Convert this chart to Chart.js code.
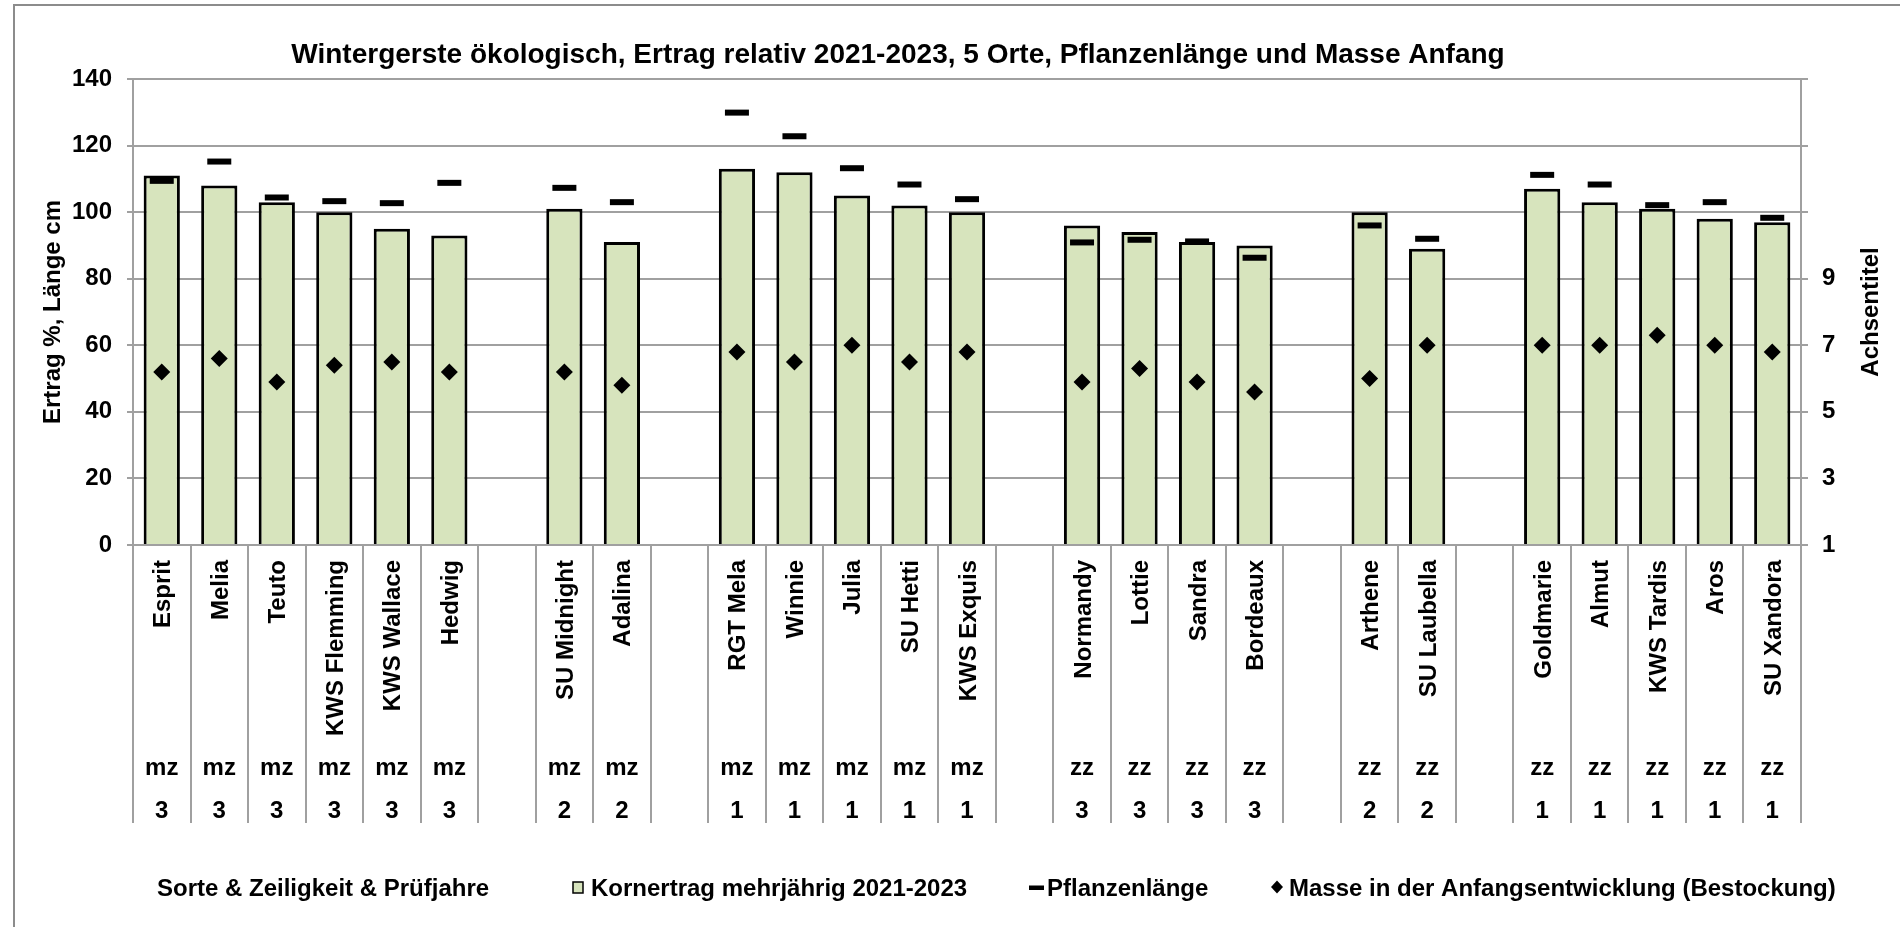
<!DOCTYPE html>
<html>
<head>
<meta charset="utf-8">
<script src="https://cdn.jsdelivr.net/npm/chart.js@4.4.1/dist/chart.umd.min.js"></script>
<style>
html,body{margin:0;padding:0;background:#fff;}
canvas{display:block;}
</style>
</head>
<body>
<canvas id="c" width="1900" height="927"></canvas>
<script>
// ---------- data ----------
const categories = ['Esprit','Melia','Teuto','KWS Flemming','KWS Wallace','Hedwig','',
  'SU Midnight','Adalina','',
  'RGT Mela','Winnie','Julia','SU Hetti','KWS Exquis','',
  'Normandy','Lottie','Sandra','Bordeaux','',
  'Arthene','SU Laubella','',
  'Goldmarie','Almut','KWS Tardis','Aros','SU Xandora'];
const zeiligkeit = ['mz','mz','mz','mz','mz','mz','',
  'mz','mz','',
  'mz','mz','mz','mz','mz','',
  'zz','zz','zz','zz','',
  'zz','zz','',
  'zz','zz','zz','zz','zz'];
const pruefjahre = ['3','3','3','3','3','3','',
  '2','2','',
  '1','1','1','1','1','',
  '3','3','3','3','',
  '2','2','',
  '1','1','1','1','1'];
const kornertrag = [111,108,103,100,95,93,null,
  101,91,null,
  113,112,105,102,100,null,
  96,94,91,90,null,
  100,89,null,
  107,103,101,98,97];
const pflanzenlaenge = [109.4,115.2,104.4,103.3,102.7,108.8,null,
  107.3,103.0,null,
  129.9,122.8,113.2,108.3,103.9,null,
  90.9,91.7,91.2,86.3,null,
  96.0,92.0,null,
  111.2,108.3,102.1,103.0,98.3];
const masseAnfang = [6.2,6.6,5.9,6.4,6.5,6.2,null,
  6.2,5.8,null,
  6.8,6.5,7.0,6.5,6.8,null,
  5.9,6.3,5.9,5.6,null,
  6.0,7.0,null,
  7.0,7.0,7.3,7.0,6.8];
const leftTicks = {min:0, max:140, step:20};
const rightTicks = {min:1, max:15, step:2, lastLabel:9};
const titleText = 'Wintergerste ökologisch, Ertrag relativ 2021-2023, 5 Orte, Pflanzenlänge und Masse Anfang';
const leftAxisTitle = 'Ertrag %, Länge cm';
const rightAxisTitle = 'Achsentitel';
const legendLabels = ['Sorte & Zeiligkeit & Prüfjahre','Kornertrag mehrjährig 2021-2023','Pflanzenlänge','Masse in der Anfangsentwicklung (Bestockung)'];

// ---------- style ----------
const FONT = "'Liberation Sans', Arial, Helvetica, sans-serif";
const GRID = '#a0a0a0';
const BAR_FILL = '#d7e4bd';

const decor = {
  id: 'decor',
  beforeDraw(chart) {
    const ctx = chart.ctx;
    ctx.save();
    ctx.fillStyle = '#fff';
    ctx.fillRect(0, 0, chart.width, chart.height);
    ctx.strokeStyle = '#8c8c8c';
    ctx.lineWidth = 2;
    ctx.strokeRect(14, 5, chart.width + 10, chart.height + 10);
    ctx.restore();
  },
  afterDraw(chart) {
    const ctx = chart.ctx, xs = chart.scales.x, area = chart.chartArea;
    const slot = xs.getPixelForValue(1) - xs.getPixelForValue(0);
    ctx.save();
    // category separators
    ctx.strokeStyle = GRID;
    ctx.lineWidth = 2;
    ctx.beginPath();
    for (let i = 0; i <= categories.length; i++) {
      const px = Math.round(xs.getPixelForValue(0) - slot / 2 + i * slot);
      ctx.moveTo(px, area.bottom);
      ctx.lineTo(px, area.bottom + 278);
    }
    ctx.stroke();
    // category labels
    ctx.fillStyle = '#000';
    ctx.font = 'bold 24px ' + FONT;
    categories.forEach((name, i) => {
      const cx = xs.getPixelForValue(i);
      if (name) {
        ctx.save();
        ctx.translate(cx + 8.5, area.bottom + 15);
        ctx.rotate(-Math.PI / 2);
        ctx.textAlign = 'right';
        ctx.textBaseline = 'alphabetic';
        ctx.fillText(name, 0, 0);
        ctx.restore();
      }
      ctx.textAlign = 'center';
      ctx.textBaseline = 'alphabetic';
      if (zeiligkeit[i]) ctx.fillText(zeiligkeit[i], cx, area.bottom + 230);
      if (pruefjahre[i]) ctx.fillText(pruefjahre[i], cx, area.bottom + 273);
    });
    // title
    ctx.font = 'bold 28px ' + FONT;
    ctx.textAlign = 'center';
    ctx.textBaseline = 'alphabetic';
    ctx.fillText(titleText, 898, 63);
    // axis titles
    ctx.font = 'bold 24px ' + FONT;
    const midY = (area.top + area.bottom) / 2;
    ctx.save();
    ctx.translate(60, midY);
    ctx.rotate(-Math.PI / 2);
    ctx.fillText(leftAxisTitle, 0, 0);
    ctx.restore();
    ctx.save();
    ctx.translate(1878, midY);
    ctx.rotate(-Math.PI / 2);
    ctx.fillText(rightAxisTitle, 0, 0);
    ctx.restore();
    // legend
    ctx.textAlign = 'left';
    const base = 896;
    ctx.fillText(legendLabels[0], 157, base);
    ctx.fillStyle = BAR_FILL;
    ctx.fillRect(573, 882, 10, 11);
    ctx.strokeStyle = '#000';
    ctx.lineWidth = 1.5;
    ctx.strokeRect(573, 882, 10, 11);
    ctx.fillStyle = '#000';
    ctx.fillText(legendLabels[1], 591, base);
    ctx.fillRect(1029, 885.5, 15, 4.5);
    ctx.fillText(legendLabels[2], 1047, base);
    ctx.beginPath();
    ctx.moveTo(1277, 880.5);
    ctx.lineTo(1283, 887);
    ctx.lineTo(1277, 893.5);
    ctx.lineTo(1271, 887);
    ctx.closePath();
    ctx.fill();
    ctx.fillText(legendLabels[3], 1289, base);
    ctx.restore();
  }
};

Chart.defaults.font.family = FONT;
Chart.defaults.color = '#000';

new Chart(document.getElementById('c'), {
  type: 'bar',
  data: {
    labels: categories,
    datasets: [
      {
        type: 'bar',
        label: legendLabels[1],
        data: kornertrag,
        backgroundColor: BAR_FILL,
        borderColor: '#000',
        borderWidth: 3,
        borderSkipped: 'bottom',
        barPercentage: 0.63,
        categoryPercentage: 1.0,
        yAxisID: 'y',
        order: 3
      },
      {
        type: 'line',
        label: legendLabels[2],
        data: pflanzenlaenge,
        showLine: false,
        pointStyle: 'line',
        pointRadius: 12,
        pointBorderWidth: 6,
        pointBorderColor: '#000',
        pointBackgroundColor: '#000',
        yAxisID: 'y',
        order: 2
      },
      {
        type: 'line',
        label: legendLabels[3],
        data: masseAnfang,
        showLine: false,
        pointStyle: 'rectRot',
        pointRadius: 8.5,
        pointBorderWidth: 0,
        pointBackgroundColor: '#000',
        pointBorderColor: '#000',
        yAxisID: 'y2',
        order: 1
      }
    ]
  },
  options: {
    responsive: false,
    devicePixelRatio: 1,
    animation: false,
    events: [],
    layout: { padding: { left: 0, right: 0, top: 79, bottom: 382 } },
    plugins: { legend: { display: false }, tooltip: { enabled: false }, title: { display: false } },
    scales: {
      x: { display: false, offset: true },
      y: {
        position: 'left',
        min: leftTicks.min, max: leftTicks.max,
        ticks: { stepSize: leftTicks.step, font: { size: 24, weight: 'bold' }, color: '#000', padding: 15 },
        grid: { color: GRID, lineWidth: 2, tickLength: 6, drawTicks: true },
        border: { display: true, color: GRID, width: 2 },
        afterFit(s) { s.width = 133; }
      },
      y2: {
        position: 'right',
        min: rightTicks.min, max: rightTicks.max,
        ticks: {
          stepSize: rightTicks.step,
          font: { size: 24, weight: 'bold' }, color: '#000', padding: 14,
          callback: v => (v <= rightTicks.lastLabel ? String(v) : '')
        },
        grid: { drawOnChartArea: false, color: GRID, lineWidth: 2, tickLength: 7 },
        border: { display: true, color: GRID, width: 2 },
        afterFit(s) { s.width = 99; }
      }
    }
  },
  plugins: [decor]
});
</script>
</body>
</html>
